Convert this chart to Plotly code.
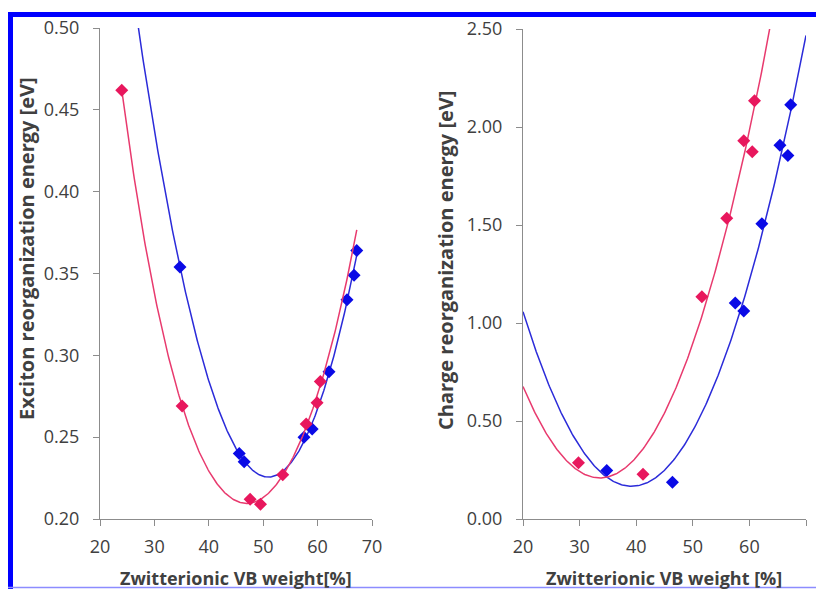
import numpy as np
import plotly.graph_objects as go

W, H = 816, 589

# ---- data ----
exc_pink_x = [24.0, 35.1, 47.6, 49.5, 53.6, 57.9, 59.9, 60.5]
exc_pink_y = [0.462, 0.269, 0.212, 0.209, 0.227, 0.258, 0.271, 0.284]
exc_blue_x = [34.7, 45.6, 46.5, 57.5, 59.0, 62.1, 65.4, 66.7, 67.2]
exc_blue_y = [0.354, 0.240, 0.235, 0.250, 0.255, 0.290, 0.334, 0.349, 0.364]

chg_pink_x = [29.8, 41.2, 51.6, 56.0, 59.0, 60.5, 60.9]
chg_pink_y = [0.287, 0.228, 1.134, 1.534, 1.930, 1.874, 2.134]
chg_blue_x = [34.8, 46.4, 57.5, 59.0, 62.2, 65.4, 66.8, 67.3]
chg_blue_y = [0.248, 0.187, 1.102, 1.061, 1.507, 1.907, 1.854, 2.114]

# trendline extents (x) and polynomial orders
exc_pink_span = (24.0, 67.2)
exc_blue_span = (25.0, 67.2)
chg_pink_span = (20.0, 66.0)
chg_blue_span = (20.0, 70.0)
exc_pink_order = 4
exc_blue_order = 3
chg_order = 2

x_ticks = [20, 30, 40, 50, 60, 70]
exc_ticks = [0.20, 0.25, 0.30, 0.35, 0.40, 0.45, 0.50]
chg_ticks = [0.0, 0.5, 1.0, 1.5, 2.0, 2.5]

PINK = "#e8175d"
PINK_LINE = "#e83a6e"
BLUE = "#0a0ae6"
BLUE_LINE = "#2b2bd9"
AXIS = "#8c8c8c"
TXT = "#404040"
FONT = "Open Sans"


def trend(xs, ys, order, span):
    c = np.polyfit(xs, ys, order)
    xx = np.linspace(span[0], span[1], 300)
    return xx, np.polyval(c, xx)


fig = go.Figure()

for xs, ys, span, mc, lc, order, xa, ya in [
    (exc_blue_x, exc_blue_y, exc_blue_span, BLUE, BLUE_LINE, exc_blue_order, "x", "y"),
    (exc_pink_x, exc_pink_y, exc_pink_span, PINK, PINK_LINE, exc_pink_order, "x", "y"),
    (chg_blue_x, chg_blue_y, chg_blue_span, BLUE, BLUE_LINE, chg_order, "x2", "y2"),
    (chg_pink_x, chg_pink_y, chg_pink_span, PINK, PINK_LINE, chg_order, "x2", "y2"),
]:
    tx, ty = trend(xs, ys, order, span)
    fig.add_trace(go.Scatter(x=tx, y=ty, mode="lines", xaxis=xa, yaxis=ya,
                             line=dict(color=lc, width=1.5), hoverinfo="skip",
                             showlegend=False))
    fig.add_trace(go.Scatter(x=xs, y=ys, mode="markers", xaxis=xa, yaxis=ya,
                             marker=dict(symbol="diamond", size=10, color=mc),
                             showlegend=False, cliponaxis=False))


def px_x(p):
    return p / W


def px_y(p):
    return 1 - p / H


axis_common = dict(showgrid=False, zeroline=False, showline=True, linecolor=AXIS,
                   linewidth=1.3, ticks="outside", ticklen=6, tickcolor=AXIS,
                   tickwidth=1.3, automargin=False,
                   tickfont=dict(family=FONT, size=18, color=TXT))

fig.update_layout(
    template=None,
    width=W, height=H, margin=dict(l=0, r=0, t=0, b=0, autoexpand=False),
    paper_bgcolor="white", plot_bgcolor="white",
    xaxis=dict(domain=[px_x(100), px_x(372)], range=[20, 70], tickvals=x_ticks,
               anchor="y", ticklabelstandoff=5, **axis_common),
    yaxis=dict(domain=[px_y(519), px_y(28)], range=[0.20, 0.50], tickvals=exc_ticks,
               tickformat=".2f", anchor="x", ticklabelstandoff=10, **axis_common),
    xaxis2=dict(domain=[px_x(523), px_x(806)], range=[20, 70], tickvals=x_ticks,
                anchor="y2", ticklabelstandoff=5, **axis_common),
    yaxis2=dict(domain=[px_y(519), px_y(29)], range=[0.0, 2.5], tickvals=chg_ticks,
                tickformat=".2f", anchor="x2", ticklabelstandoff=10, **axis_common),
)

ytitle_font = dict(family=FONT, size=20, color=TXT)
xtitle_font = dict(family=FONT, size=18, color=TXT)
ann = [
    dict(text="<b>Exciton reorganization energy [eV]</b>", x=px_x(26), y=px_y(249),
         textangle=-90, font=ytitle_font),
    dict(text="<b>Charge reorganization energy [eV]</b>", x=px_x(446), y=px_y(260),
         textangle=-90, font=ytitle_font),
    dict(text="<b>Zwitterionic VB weight[%]</b>", x=px_x(236), y=px_y(578),
         font=xtitle_font),
    dict(text="<b>Zwitterionic VB weight [%]</b>", x=px_x(664), y=px_y(578),
         font=xtitle_font),
]
for a in ann:
    fig.add_annotation(xref="paper", yref="paper", showarrow=False,
                       xanchor="center", yanchor="middle", **a)

# blue frame
shapes = [
    dict(type="line", x0=px_x(10.5), x1=px_x(10.5), y0=px_y(12), y1=0,
         line=dict(color="#0000ff", width=5)),
    dict(type="line", x0=px_x(8), x1=1, y0=px_y(14.5), y1=px_y(14.5),
         line=dict(color="#0000ff", width=5)),
    dict(type="line", x0=px_x(8), x1=1, y0=px_y(587.5), y1=px_y(587.5),
         line=dict(color="#8c8cff", width=1.5)),
]
for s in shapes:
    fig.add_shape(xref="paper", yref="paper", layer="above", **s)

fig.write_html(
    "out.html",
    config={"displayModeBar": False},
    post_script="document.body.style.margin='0';document.body.style.overflow='hidden';",
)
